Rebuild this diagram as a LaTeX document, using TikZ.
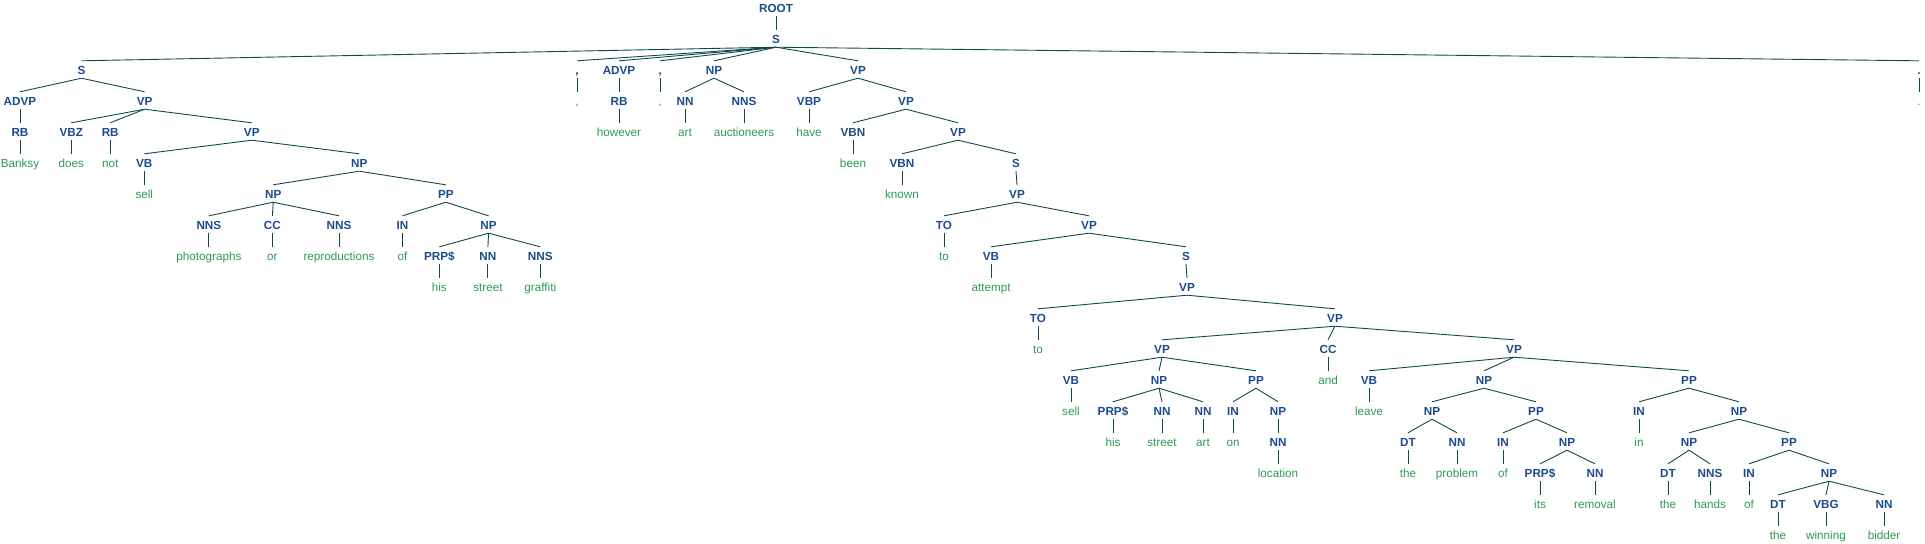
\documentclass[tikz,border=0pt]{standalone}
\usepackage{fontspec}
\setmainfont{Liberation Sans}
\usepackage{tikz}

\definecolor{tagblue}{HTML}{1C4B8C}
\definecolor{wordgreen}{HTML}{2C9A50}
\definecolor{edgeteal}{HTML}{0F4A4A}

\begin{document}
\begin{tikzpicture}[x=1pt,y=-31pt,
    tag/.style={font=\fontsize{11.7}{13}\selectfont\bfseries,text=tagblue,inner sep=0pt,text height=13pt,text depth=4pt},
    word/.style={font=\fontsize{11.7}{13}\selectfont,text=wordgreen,inner sep=0pt,text height=13pt,text depth=4pt},
    branch/.style={draw=edgeteal,line width=0.9pt}]
\useasboundingbox (0,-0.242) rectangle (1925,17.306);

% phrase nodes
\node[tag] (root) at (776,0) {ROOT};
\node[tag] (s0) at (776,1) {S};
\node[tag] (s1) at (81.5,2) {S};
\node[tag] (advp1) at (20,3) {ADVP};
\node[tag] (vp1) at (144.6,3) {VP};
\node[tag] (vp2) at (251.8,4) {VP};
\node[tag] (np1) at (359.3,5) {NP};
\node[tag] (np2) at (273.2,6) {NP};
\node[tag] (pp1) at (445.8,6) {PP};
\node[tag] (np3) at (488.6,7) {NP};
\node[tag] (advp2) at (619,2) {ADVP};
\node[tag] (np4) at (714,2) {NP};
\node[tag] (vp3) at (858,2) {VP};
\node[tag] (vp4) at (906,3) {VP};
\node[tag] (vp5) at (958,4) {VP};
\node[tag] (s2) at (1016,5) {S};
\node[tag] (vp6) at (1017,6) {VP};
\node[tag] (vp7) at (1089,7) {VP};
\node[tag] (s3) at (1186,8) {S};
\node[tag] (vp8) at (1187,9) {VP};
\node[tag] (vp9) at (1335,10) {VP};
\node[tag] (vp10) at (1162,11) {VP};
\node[tag] (np5) at (1159,12) {NP};
\node[tag] (pp2) at (1256,12) {PP};
\node[tag] (np6) at (1278,13) {NP};
\node[tag] (vp11) at (1514,11) {VP};
\node[tag] (np7) at (1484,12) {NP};
\node[tag] (np8) at (1432,13) {NP};
\node[tag] (pp3) at (1536,13) {PP};
\node[tag] (np9) at (1567,14) {NP};
\node[tag] (pp4) at (1689,12) {PP};
\node[tag] (np10) at (1739,13) {NP};
\node[tag] (np11) at (1689,14) {NP};
\node[tag] (pp5) at (1789,14) {PP};
\node[tag] (np12) at (1829,15) {NP};

% part-of-speech tags and the words under them
\foreach \n/\x/\lv/\tg/\wrd in {1/20/4/RB/Banksy, 2/71.2/4/VBZ/does, 3/110.2/4/RB/not, 4/144.3/5/VB/sell,
    5/208.9/7/NNS/photographs, 6/272.4/7/CC/or, 7/339/7/NNS/reproductions, 8/402.5/7/IN/of,
    9/439.3/8/PRP\$/his, 10/487.9/8/NN/street, 11/540.3/8/NNS/graffiti, 12/577/2/{,}/{,},
    13/619/3/RB/however, 14/660/2/{,}/{,}, 15/685/3/NN/art, 16/744/3/NNS/auctioneers,
    17/809/3/VBP/have, 18/853/4/VBN/been, 19/902/5/VBN/known, 20/944/7/TO/to,
    21/991/8/VB/attempt, 22/1038/10/TO/to, 23/1071/12/VB/sell, 24/1113/13/PRP\$/his,
    25/1162/13/NN/street, 26/1203/13/NN/art, 27/1233/13/IN/on, 28/1278/14/NN/location,
    29/1328/11/CC/and, 30/1369/12/VB/leave, 31/1408/14/DT/the, 32/1457/14/NN/problem,
    33/1503/14/IN/of, 34/1540/15/PRP\$/its, 35/1595/15/NN/removal, 36/1639/13/IN/in,
    37/1668/15/DT/the, 38/1710/15/NNS/hands, 39/1749/15/IN/of, 40/1778/16/DT/the,
    41/1826/16/VBG/winning, 42/1884/16/NN/bidder, 43/1919/2/./.}
{
  \node[tag] (t\n) at (\x,\lv) {\tg};
  \node[word] (w\n) at (\x,\lv+1) {\wrd};
  \draw[branch] (t\n.south) -- (w\n.north);
}

% branches
\foreach \a/\b in {root/s0, s0/s1, s0/t12, s0/advp2, s0/t14, s0/np4, s0/vp3, s0/t43,
    s1/advp1, s1/vp1, advp1/t1, vp1/t2, vp1/t3, vp1/vp2, vp2/t4, vp2/np1,
    np1/np2, np1/pp1, np2/t5, np2/t6, np2/t7, pp1/t8, pp1/np3, np3/t9, np3/t10, np3/t11,
    advp2/t13, np4/t15, np4/t16, vp3/t17, vp3/vp4, vp4/t18, vp4/vp5, vp5/t19, vp5/s2,
    s2/vp6, vp6/t20, vp6/vp7, vp7/t21, vp7/s3, s3/vp8, vp8/t22, vp8/vp9,
    vp9/vp10, vp9/t29, vp9/vp11, vp10/t23, vp10/np5, vp10/pp2, np5/t24, np5/t25, np5/t26,
    pp2/t27, pp2/np6, np6/t28, vp11/t30, vp11/np7, vp11/pp4, np7/np8, np7/pp3,
    np8/t31, np8/t32, pp3/t33, pp3/np9, np9/t34, np9/t35, pp4/t36, pp4/np10,
    np10/np11, np10/pp5, np11/t37, np11/t38, pp5/t39, pp5/np12, np12/t40, np12/t41, np12/t42}
  \draw[branch] (\a.south) -- (\b.north);
\end{tikzpicture}
\end{document}
